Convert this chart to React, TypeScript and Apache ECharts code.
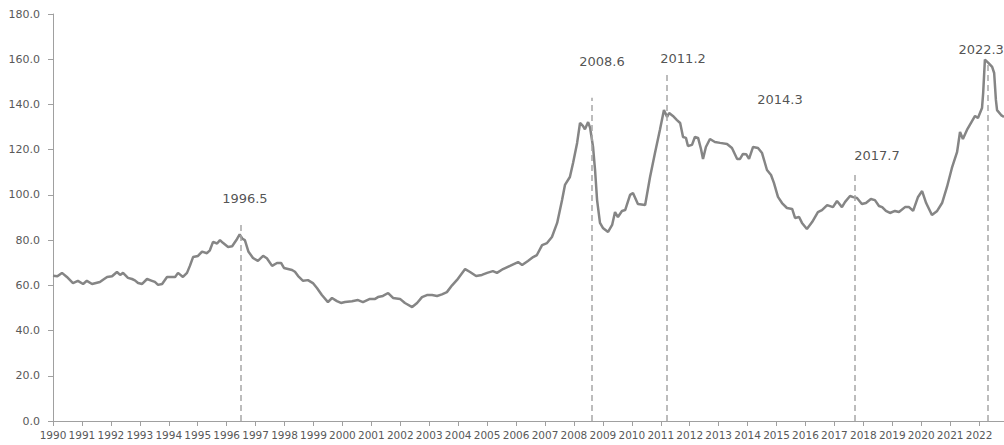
import React, { useEffect, useRef } from "react";
import * as echarts from "echarts";

// Time (decimal years) and index values
const dates: number[] = [
  1990.0, 1990.15, 1990.31, 1990.48, 1990.69, 1990.86, 1991.04, 1991.17, 1991.35, 1991.62,
  1991.73, 1991.87, 1992.04, 1992.21, 1992.32, 1992.42, 1992.59, 1992.73, 1992.83, 1992.94,
  1993.08, 1993.25, 1993.42, 1993.52, 1993.63, 1993.77, 1993.94, 1994.22, 1994.32, 1994.49,
  1994.63, 1994.73, 1994.84, 1995.01, 1995.15, 1995.32, 1995.42, 1995.53, 1995.67, 1995.77,
  1995.87, 1996.05, 1996.19, 1996.36, 1996.45, 1996.55, 1996.63, 1996.75, 1996.91, 1997.08,
  1997.26, 1997.39, 1997.57, 1997.74, 1997.88, 1997.98, 1998.26, 1998.36, 1998.47, 1998.64,
  1998.81, 1998.98, 1999.12, 1999.29, 1999.5, 1999.64, 1999.81, 1999.95, 2000.09, 2000.33,
  2000.54, 2000.71, 2000.95, 2001.13, 2001.23, 2001.4, 2001.58, 2001.75, 2001.99, 2002.16,
  2002.41, 2002.58, 2002.75, 2002.92, 2003.1, 2003.27, 2003.44, 2003.61, 2003.79, 2003.96,
  2004.24, 2004.41, 2004.62, 2004.82, 2005.0, 2005.2, 2005.34, 2005.55, 2005.79, 2006.07,
  2006.21, 2006.41, 2006.59, 2006.72, 2006.9, 2007.07, 2007.24, 2007.42, 2007.59, 2007.69,
  2007.86, 2007.97, 2008.11, 2008.21, 2008.31, 2008.38, 2008.49, 2008.56, 2008.66, 2008.73,
  2008.8, 2008.9, 2009.0, 2009.18, 2009.32, 2009.42, 2009.52, 2009.66, 2009.77, 2009.94,
  2010.04, 2010.21, 2010.46, 2010.63, 2010.8, 2010.97, 2011.11, 2011.22, 2011.29, 2011.42,
  2011.56, 2011.67, 2011.77, 2011.87, 2011.94, 2012.08, 2012.18, 2012.29, 2012.39, 2012.46,
  2012.56, 2012.7, 2012.87, 2013.05, 2013.29, 2013.46, 2013.64, 2013.74, 2013.84, 2013.95,
  2014.05, 2014.19, 2014.36, 2014.5, 2014.67, 2014.81, 2014.91, 2015.05, 2015.19, 2015.36,
  2015.54, 2015.64, 2015.78, 2015.88, 2016.05, 2016.23, 2016.43, 2016.57, 2016.75, 2016.95,
  2017.09, 2017.26, 2017.37, 2017.54, 2017.65, 2017.78, 2017.95, 2018.09, 2018.26, 2018.4,
  2018.54, 2018.65, 2018.78, 2018.92, 2019.09, 2019.23, 2019.44, 2019.58, 2019.72, 2019.89,
  2020.03, 2020.17, 2020.37, 2020.55, 2020.72, 2020.89, 2021.06, 2021.24, 2021.34, 2021.44,
  2021.58, 2021.72, 2021.86, 2021.96, 2022.1, 2022.14, 2022.2, 2022.31, 2022.45, 2022.52,
  2022.58, 2022.62, 2022.76, 2022.86,
];

const prices: number[] = [
  64.2, 64.0, 65.5, 63.7, 61.0, 62.0, 60.6, 62.0, 60.6, 61.5,
  62.5, 63.7, 64.0, 65.9, 64.6, 65.5, 63.3, 62.8, 62.2, 61.0,
  60.6, 62.8, 62.0, 61.5, 60.2, 60.6, 63.7, 63.7, 65.5, 63.7,
  65.5, 68.6, 72.5, 73.0, 74.9, 74.2, 75.5, 79.2, 78.5, 80.0,
  78.8, 77.0, 77.3, 80.5, 82.5, 80.5, 80.0, 75.0, 72.1, 70.8,
  73.0, 72.0, 68.6, 69.9, 69.9, 67.7, 66.8, 66.0, 64.1, 62.0,
  62.3, 61.0, 58.8, 55.7, 52.6, 54.4, 53.0, 52.2, 52.6, 53.0,
  53.5, 52.6, 54.0, 54.0, 54.8, 55.3, 56.6, 54.4, 54.0, 52.2,
  50.4, 52.2, 54.8, 55.7, 55.7, 55.3, 56.0, 57.0, 60.0, 62.4,
  67.2, 65.9, 64.1, 64.6, 65.5, 66.3, 65.5, 67.2, 68.6, 70.3,
  69.0, 70.8, 72.5, 73.4, 77.8, 78.7, 81.4, 87.6, 97.7, 104.4,
  107.9, 114.1, 123.0, 131.8, 130.5, 129.0, 132.2, 129.6, 121.2, 111.0,
  97.7, 87.6, 85.4, 83.6, 86.7, 92.4, 90.2, 92.9, 93.3, 100.0,
  100.8, 96.0, 95.5, 107.9, 118.5, 128.7, 137.5, 134.5, 136.2, 134.9,
  133.1, 131.8, 125.6, 125.2, 121.6, 122.1, 125.6, 125.2, 120.3, 115.9,
  121.2, 124.7, 123.4, 123.0, 122.5, 120.7, 115.9, 115.9, 118.1, 118.0,
  115.9, 121.2, 120.7, 118.5, 111.0, 108.8, 105.3, 99.1, 96.4, 94.2,
  93.8, 89.8, 90.2, 87.6, 84.9, 88.0, 92.4, 93.3, 95.5, 94.6,
  97.3, 94.6, 96.9, 99.5, 99.0, 98.6, 96.0, 96.4, 98.2, 97.7,
  95.1, 94.6, 92.9, 92.0, 92.9, 92.4, 94.6, 94.6, 92.9, 99.1,
  101.7, 96.4, 91.1, 92.9, 96.4, 103.5, 111.9, 119.0, 127.8, 124.7,
  128.7, 131.8, 134.9, 134.0, 138.4, 145.0, 159.8, 158.5, 156.6, 153.9,
  142.0, 137.5, 135.3, 134.5,
];

// Marked turning points: dashed line positions and heights
const markYears: number[] = [1996.5, 2008.6, 2011.2, 2017.7, 2022.3];
const markTops: number[] = [88.5, 143, 154, 110, 158];

// Annotation texts and their anchor points (data coordinates)
const annoLabels: string[] = ["1996.5", "2008.6", "2011.2", "2014.3", "2017.7", "2022.3"];
const annoX: number[] = [1996.63, 2008.97, 2011.77, 2015.12, 2018.47, 2022.07];
const annoY: number[] = [98.6, 158.8, 160.5, 142.4, 117.2, 164.5];

const yTicks: number[] = [0, 20, 40, 60, 80, 100, 120, 140, 160, 180];

export default function App() {
  const ref = useRef<HTMLDivElement>(null);

  useEffect(() => {
    if (!ref.current) return;
    const chart = echarts.init(ref.current, undefined, { renderer: "svg" });
    const axisColor = "#a0a0a0";
    const labelColor = "#595959";

    chart.setOption({
      animation: false,
      backgroundColor: "#ffffff",
      grid: { left: 53, right: 0, top: 14, bottom: 24 },
      xAxis: {
        type: "value",
        min: 1990,
        max: 2022.86,
        interval: 1,
        axisLine: { show: true, lineStyle: { color: axisColor, width: 1 } },
        axisTick: { show: true, length: 5, lineStyle: { color: axisColor } },
        splitLine: { show: false },
        axisLabel: {
          color: labelColor,
          fontSize: 10.5,
          fontFamily: "DejaVu Sans",
          margin: 8,
          showMaxLabel: false,
          formatter: (v: number) => (Number.isInteger(v) ? String(v) : ""),
        },
      },
      yAxis: {
        type: "value",
        min: yTicks[0],
        max: yTicks[yTicks.length - 1],
        interval: 20,
        axisLine: { show: true, lineStyle: { color: axisColor, width: 1 } },
        axisTick: { show: true, length: 5, lineStyle: { color: axisColor } },
        splitLine: { show: false },
        axisLabel: {
          color: labelColor,
          fontSize: 11,
          fontFamily: "DejaVu Sans",
          margin: 13,
          formatter: (v: number) => v.toFixed(1),
        },
      },
      series: [
        {
          type: "line",
          data: dates.map((d, i) => [d, prices[i]]),
          showSymbol: false,
          symbol: "none",
          lineStyle: { color: "#858585", width: 2.5 },
          z: 3,
          markLine: {
            silent: true,
            symbol: "none",
            label: { show: false },
            lineStyle: { color: "#a6a6a6", type: [6, 4], width: 1.5 },
            data: markYears.map((y, i) => [
              { coord: [y, 0] },
              { coord: [y, markTops[i]] },
            ]),
          },
        },
        {
          type: "scatter",
          symbolSize: 0,
          silent: true,
          z: 5,
          data: annoLabels.map((t, i) => ({ name: t, value: [annoX[i], annoY[i]] })),
          label: {
            show: true,
            position: "inside",
            formatter: (p: any) => p.name,
            color: "#262626",
            fontSize: 13,
            fontFamily: "DejaVu Sans",
          },
        },
      ],
    });

    return () => chart.dispose();
  }, []);

  return (
    <div
      ref={ref}
      style={{ position: "absolute", left: 0, top: 0, width: 1004, height: 445 }}
    />
  );
}
